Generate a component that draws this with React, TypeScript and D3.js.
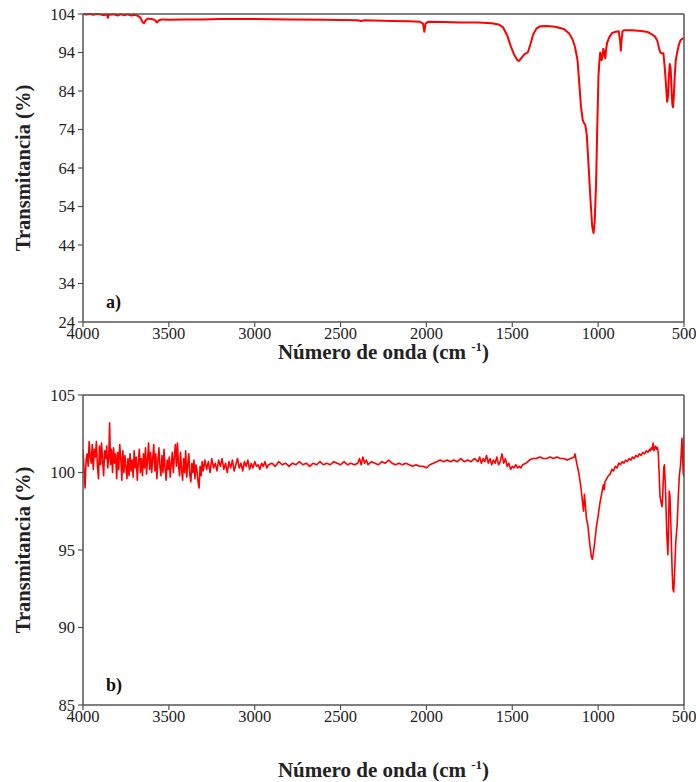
import React from "react";
import * as d3 from "d3";

// ---------- Panel a) data ----------
const wnA = [4000,3980,3960,3940,3920,3900,3880,3860,3855,3850,3820,3800,3780,3760,3740,3720,3700,3680,3665,3655,3645,3635,3620,3600,3580,3570,3560,3540,3500,3400,3300,3200,3000,2800,2600,2400,2380,2360,2200,2100,2040,2020,2012,2005,1990,1900,1800,1700,1620,1580,1555,1530,1510,1490,1470,1460,1450,1430,1410,1395,1380,1360,1340,1300,1250,1200,1170,1150,1135,1120,1110,1100,1090,1083,1075,1066,1055,1045,1035,1027,1020,1012,1005,998,993,988,984,980,975,970,964,958,953,948,935,920,905,880,872,868,864,858,850,800,750,710,690,670,655,645,638,630,620,612,604,598,592,588,583,578,573,568,564,560,555,548,540,530,520,510,500];
const tA = [104.0,103.9,104.0,103.8,104.0,103.9,103.7,103.9,103.0,103.8,103.9,103.6,103.9,103.7,103.9,103.6,103.8,103.5,103.0,102.0,101.6,102.4,102.8,102.7,102.4,101.8,102.3,102.6,102.5,102.6,102.6,102.7,102.7,102.6,102.5,102.4,102.2,102.4,102.2,102.1,102.0,101.5,99.4,101.5,102.0,101.9,101.8,101.8,101.6,101.3,100.6,98.5,95.8,93.5,92.0,91.8,92.4,93.5,94.0,96.0,98.5,100.2,100.8,100.9,100.7,100.1,99.0,97.5,95.5,92.0,86,80,76.5,75.7,75.2,72.5,64,56,49,47.1,50,60,75,88,91.5,94,93.4,92.0,93,95,94,92.5,95,96.5,98,99,99.3,99.5,97,94.5,97,99.5,99.8,99.8,99.6,99.3,98.8,98.2,97,95,94,93.8,93.8,90,85,81.2,83,88,91,90,85,80.5,79.8,82,87,92,94,96,97.2,97.6,97.7];

// ---------- Panel b) data ----------
const wnB = [4000,3993,3988,3982,3976,3970,3964,3958,3952,3946,3940,3934,3928,3922,3916,3910,3904,3898,3892,3886,3880,3874,3868,3862,3856,3850,3845,3840,3834,3828,3822,3816,3810,3804,3798,3792,3786,3780,3774,3768,3762,3756,3750,3744,3738,3732,3726,3720,3714,3708,3702,3696,3690,3684,3678,3672,3666,3660,3654,3648,3642,3636,3630,3624,3618,3612,3606,3600,3594,3588,3582,3576,3570,3564,3558,3552,3546,3540,3534,3528,3522,3516,3510,3504,3498,3492,3486,3480,3474,3468,3462,3456,3450,3444,3438,3432,3426,3420,3414,3408,3402,3396,3390,3384,3378,3372,3366,3360,3354,3348,3342,3336,3330,3324,3318,3312,3306,3300,
3290,3280,3270,3260,3250,3240,3230,3220,3210,3200,3190,3180,3170,3160,3150,3140,3130,3120,3110,3100,3090,3080,3070,3060,3050,3040,3030,3020,3010,3000,2990,2980,2970,2960,2950,2940,2930,2920,2900,2880,2860,2840,2820,2800,2780,2760,2740,2720,2700,2680,2660,2640,2620,2600,2580,2560,2540,2520,2500,2480,2460,2440,2420,2400,2390,2380,2370,2360,2350,2340,2320,2300,2280,2260,2240,2220,2200,2180,2160,2140,2120,2100,2080,2060,2040,2020,2000,1980,1960,1940,1920,1900,1880,1860,1840,1820,1800,1780,1760,1740,1720,1700,1690,1680,1670,1660,1650,1640,1630,1620,1610,1600,1590,1580,1570,1560,1550,1540,1530,1520,1510,1500,1490,1480,1470,1460,1450,1440,1420,1400,1380,1360,1340,1320,1300,1280,1260,1240,1220,1200,1180,1160,1140,1135,1125,1113,1100,1090,1085,1080,1075,1068,1060,1050,1040,1034,1028,1020,1010,1000,990,980,970,965,960,950,940,930,920,910,900,890,880,870,860,850,840,830,820,810,800,790,780,770,760,750,740,730,720,710,700,695,690,685,680,675,670,665,660,655,650,645,640,634,628,624,618,614,608,600,594,590,586,582,576,570,565,560,555,548,540,533,527,520,515,512,508,505,502,500];
const tB = [101.5,100.0,99.0,100.8,101.2,100.4,102.0,101.0,100.6,101.8,100.2,101.5,101.0,102.0,100.4,99.6,101.7,100.5,101.9,100.8,99.8,101.4,100.9,101.7,100.3,101.0,103.2,100.5,101.5,100.0,101.6,100.6,101.2,99.6,101.3,100.2,101.8,100.9,99.5,101.4,100.0,101.1,100.4,99.6,100.9,99.8,101.2,100.1,100.8,99.7,101.4,100.3,101.0,99.5,100.6,101.5,100.0,100.9,99.8,101.2,100.3,101.6,99.9,100.8,101.9,100.2,101.3,100.0,100.9,101.8,100.1,101.2,99.6,100.7,101.6,100.4,99.8,101.1,100.0,101.5,100.3,99.5,100.8,100.2,101.0,99.7,100.6,101.3,100.0,101.0,101.8,100.4,101.9,100.5,99.8,101.3,100.2,99.5,100.9,100.0,101.4,99.7,100.5,101.2,99.9,99.4,100.6,100.0,100.8,99.6,100.5,100.1,99.4,99.0,100.4,99.8,100.7,100.1,
100.8,100.2,100.7,100.0,100.9,100.3,100.6,100.1,100.8,100.4,100.9,100.2,100.6,100.0,100.7,100.3,100.8,100.1,100.5,100.9,100.3,100.6,100.1,100.7,100.4,100.8,100.2,100.6,100.3,100.7,100.4,100.5,100.2,100.6,100.4,100.7,100.3,100.5,100.6,100.4,100.7,100.5,100.6,100.4,100.6,100.5,100.7,100.5,100.6,100.4,100.6,100.5,100.7,100.5,100.6,100.5,100.7,100.6,100.5,100.7,100.5,100.6,100.5,100.6,100.9,100.5,101.0,100.6,100.8,100.5,100.7,100.6,100.5,100.7,100.6,100.8,100.6,100.5,100.6,100.5,100.6,100.5,100.4,100.5,100.4,100.4,100.3,100.5,100.6,100.7,100.8,100.7,100.8,100.7,100.8,100.7,100.9,100.7,100.8,100.7,100.9,100.7,101.0,100.6,100.9,100.7,101.1,100.6,100.9,100.5,100.8,100.6,101.0,100.5,100.7,101.2,100.6,100.9,100.4,100.6,100.2,100.4,100.3,100.5,100.3,100.4,100.3,100.5,100.6,100.8,100.9,100.9,101.0,100.9,100.9,101.0,100.9,101.0,100.9,100.9,100.8,100.9,101.0,101.2,100.6,100.0,99.0,98.0,97.5,98.6,98.0,97.0,96.6,95.5,94.6,94.4,94.8,95.5,96.5,97.2,98.0,98.6,99.2,98.9,99.4,99.6,99.8,99.9,100.2,100.1,100.4,100.3,100.6,100.5,100.7,100.6,100.8,100.7,100.9,100.8,101.0,100.9,101.1,101.0,101.2,101.1,101.3,101.2,101.4,101.3,101.5,101.4,101.6,101.5,101.9,101.4,101.6,101.7,101.5,101.6,101.3,100.0,98.5,98.1,97.8,98.5,100.3,100.5,99.0,96.0,94.7,96.5,98.8,98.5,96.5,94.0,92.5,92.3,93.5,95.5,96.6,98.5,99.8,100.5,101.5,102.2,101.0,100.0,99.8,102.4];

const xTicks = [4000, 3500, 3000, 2500, 2000, 1500, 1000, 500];
const yTicksA = [104, 94, 84, 74, 64, 54, 44, 34, 24];
const yTicksB = [105, 100, 95, 90, 85];

const FONT = "'Liberation Serif', 'Times New Roman', serif";

type PanelProps = {
  wn: number[]; t: number[]; yDomain: [number, number]; yTicks: number[];
  top: number; bottom: number; label: string; titleY: number; strokeW: number; id: string;
};

function Panel({ wn, t, yDomain, yTicks, top, bottom, label, titleY, strokeW, id }: PanelProps) {
  const left = 83, right = 684;
  const x = d3.scaleLinear().domain([4000, 500]).range([left, right]);
  const y = d3.scaleLinear().domain(yDomain).range([bottom, top]);
  const pts = wn.map((w, i) => [w, t[i]] as [number, number]);
  const line = d3.line<[number, number]>().x(d => x(d[0])).y(d => y(d[1]));
  const axisColor = "#555";
  return (
    <g>
      <defs>
        <clipPath id={id}>
          <rect x={left} y={top - 1} width={right - left} height={bottom - top + 2} />
        </clipPath>
      </defs>
      <path d={line(pts) || ""} fill="none" stroke="#ff0000" strokeWidth={strokeW} strokeLinejoin="round" clipPath={`url(#${id})`} />
      <line x1={left} x2={right} y1={top} y2={top} stroke={axisColor} strokeWidth={1.5} />
      <line x1={right} x2={right} y1={top} y2={bottom} stroke={axisColor} strokeWidth={1.5} />
      <line x1={left} x2={left} y1={top} y2={bottom} stroke={axisColor} strokeWidth={1.5} />
      <line x1={left} x2={right} y1={bottom} y2={bottom} stroke={axisColor} strokeWidth={1.5} />
      {yTicks.map(v => (
        <g key={v}>
          <line x1={left - 5} x2={left} y1={y(v)} y2={y(v)} stroke={axisColor} strokeWidth={1.2} />
          <text x={left - 8} y={y(v)} dy="0.35em" textAnchor="end" fontFamily={FONT} fontSize={16.5} fill="#222">{v}</text>
        </g>
      ))}
      {xTicks.map(v => (
        <g key={v}>
          <line x1={x(v)} x2={x(v)} y1={bottom} y2={bottom + 5} stroke={axisColor} strokeWidth={1.2} />
          <text x={x(v)} y={bottom + 17} textAnchor="middle" fontFamily={FONT} fontSize={16.5} fill="#222">{v}</text>
        </g>
      ))}
      <text x={106} y={bottom - 14} fontFamily={FONT} fontSize={18} fontWeight="bold" fill="#111">{label}</text>
      <text transform={`translate(30,${(top + bottom) / 2}) rotate(-90)`} textAnchor="middle" fontFamily={FONT} fontSize={20.5} fontWeight="bold" fill="#222">Transmitancia (%)</text>
      <text x={(left + right) / 2} y={titleY} textAnchor="middle" fontFamily={FONT} fontSize={21} fontWeight="bold" fill="#222">
        Número de onda (cm <tspan dy={-8} fontSize={13}>-1</tspan><tspan dy={8}>)</tspan>
      </text>
    </g>
  );
}

export default function App() {
  return (
    <svg width={696} height={782} style={{ position: "absolute", left: 0, top: 0, background: "#fff" }}>
      <rect width={696} height={782} fill="#fff" />
      <Panel wn={wnA} t={tA} yDomain={[24, 104]} yTicks={yTicksA} top={14} bottom={322} label="a)" titleY={359} strokeW={2} id="clipA" />
      <Panel wn={wnB} t={tB} yDomain={[85, 105]} yTicks={yTicksB} top={395} bottom={705} label="b)" titleY={777} strokeW={1.6} id="clipB" />
    </svg>
  );
}
